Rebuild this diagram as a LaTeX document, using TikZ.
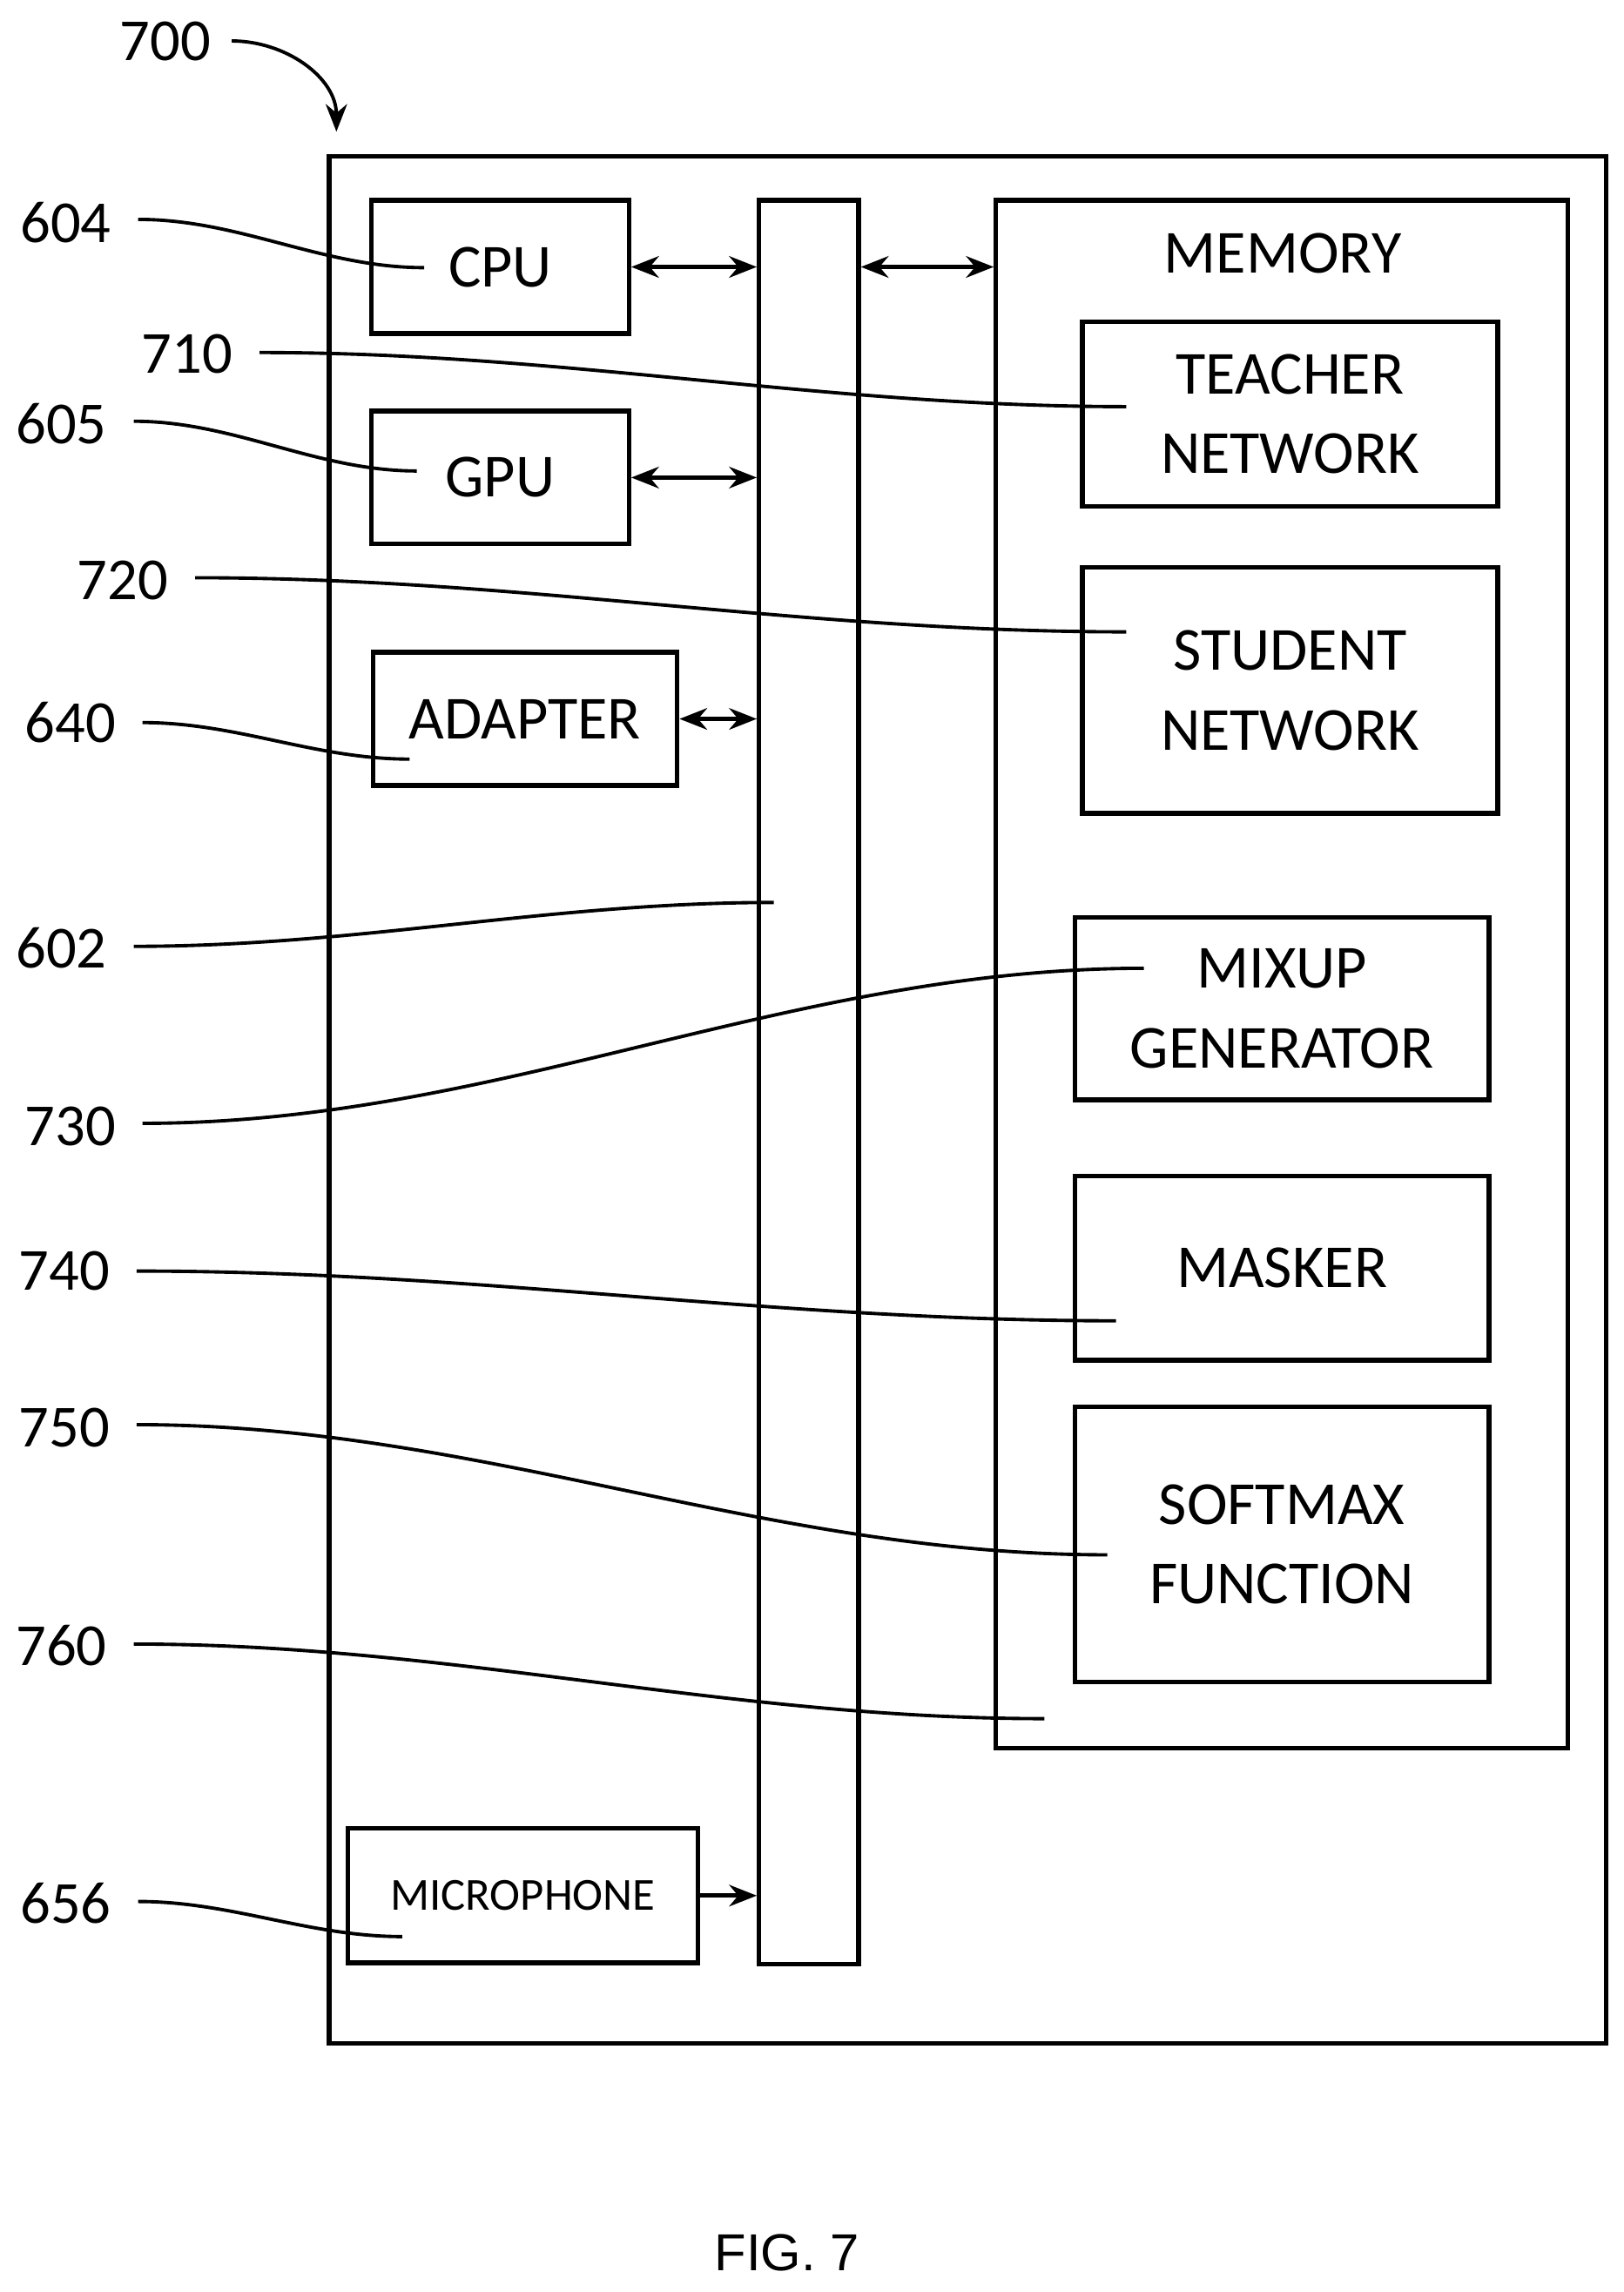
\documentclass[tikz,border=0pt]{standalone}
\usepackage{fontspec}
\setmainfont{Carlito}
\newfontfamily\figfont{Liberation Sans}
\usetikzlibrary{arrows.meta}
\def\px{0.0168cm}
\begin{document}
\begin{tikzpicture}[x=0.0168cm,y=-0.0168cm]
    % Define styles
    \tikzstyle{box} = [draw, line width=1.5pt, inner sep=0pt, align=center, font=\fontsize{20}{26}\selectfont]
    \tikzstyle{num} = [inner sep=0pt, font=\fontsize{19.5}{22}\selectfont]
    \tikzstyle{lead} = [line width=1.1pt, out=0, in=180, looseness=0.9]
    \tikzstyle{arrow} = [line width=1.5pt, {Stealth[length=9pt,width=7pt]}-{Stealth[length=9pt,width=7pt]}]
    \tikzstyle{oneway} = [line width=1.5pt, -{Stealth[length=9pt,width=7pt]}]
    \useasboundingbox (0,0) rectangle (1110,1567);

    % Boxes
    \node (dev) [box, minimum width={873*\px}, minimum height={1290*\px}] at (661.5,752) {};
    \node (cpu) [box, minimum width={176*\px}, minimum height={91*\px}] at (342,182.5) {CPU};
    \node (gpu) [box, minimum width={176*\px}, minimum height={91*\px}] at (342,326.5) {GPU};
    \node (adp) [box, minimum width={208*\px}, minimum height={91*\px}] at (359,491.5) {ADAPTER};
    \node (bus) [box, minimum width={68*\px}, minimum height={1206*\px}] at (553,740) {};
    \node (mem) [box, minimum width={391*\px}, minimum height={1058*\px}] at (876.5,666) {};
    \node (memt) [num, font=\fontsize{20}{26}\selectfont] at (877,173) {MEMORY};
    \node (tea) [box, minimum width={284*\px}, minimum height={126*\px}] at (882,283) {TEACHER\\NETWORK};
    \node (stu) [box, minimum width={284*\px}, minimum height={168*\px}] at (882,472) {STUDENT\\NETWORK};
    \node (mix) [box, minimum width={283*\px}, minimum height={125*\px}] at (876.5,689.5) {MIXUP\\GENERATOR};
    \node (msk) [box, minimum width={283*\px}, minimum height={126*\px}] at (876.5,867) {MASKER};
    \node (sfx) [box, minimum width={283*\px}, minimum height={188*\px}] at (876.5,1056) {SOFTMAX\\FUNCTION};
    \node (mic) [box, minimum width={239*\px}, minimum height={92*\px}, font=\fontsize{15}{18}\selectfont] at (357.5,1296) {MICROPHONE};

    % Bus arrows
    \draw [arrow] (cpu.east) -- (bus.west |- cpu.east);
    \draw [arrow] (gpu.east) -- (bus.west |- gpu.east);
    \draw [arrow] (adp.east) -- (bus.west |- adp.east);
    \draw [arrow] (bus.east |- cpu.east) -- (mem.west |- cpu.east);
    \draw [oneway] (mic.east) -- (bus.west |- mic.east);

    % Reference numerals
    \node (n700) [num] at (113,28) {700};
    \node (n604) [num] at (45,152) {604};
    \node (n710) [num] at (128,242) {710};
    \node (n605) [num] at (42,290) {605};
    \node (n720) [num] at (84,397) {720};
    \node (n640) [num] at (48,494) {640};
    \node (n602) [num] at (42,648) {602};
    \node (n730) [num] at (48,770) {730};
    \node (n740) [num] at (44,869) {740};
    \node (n750) [num] at (44,976) {750};
    \node (n760) [num] at (42,1125) {760};
    \node (n656) [num] at (45,1301) {656};

    % Leader ends
    \coordinate (e604) at (290,183);
    \coordinate (e710) at (770,278);
    \coordinate (e605) at (285,322);
    \coordinate (e720) at (770,432);
    \coordinate (e640) at (280,519);
    \coordinate (e602) at (529,617);
    \coordinate (e730) at (782,662);
    \coordinate (e740) at (763,903);
    \coordinate (e750) at (757,1063);
    \coordinate (e760) at (714,1175);
    \coordinate (e656) at (275,1324);

    % Leader lines
    \draw [line width=1.1pt, -{Stealth[length=9pt,width=7pt]}] (n700.east) ++(14,0) to[out=0, in=90, looseness=1] (230,90);
    \draw [lead] (n604.east) ++(18,-2) to (e604);
    \draw [lead] (n710.east) ++(18,-1) to (e710);
    \draw [lead] (n605.east) ++(18,-2) to (e605);
    \draw [lead] (n720.east) ++(18,-2) to (e720);
    \draw [lead] (n640.east) ++(18,0) to (e640);
    \draw [lead] (n602.east) ++(18,-1) to (e602);
    \draw [lead] (n730.east) ++(18,-2) to (e730);
    \draw [lead] (n740.east) ++(18,0) to (e740);
    \draw [lead] (n750.east) ++(18,-2) to (e750);
    \draw [lead] (n760.east) ++(18,-1) to (e760);
    \draw [lead] (n656.east) ++(18,-1) to (e656);

    \node (fig) [num, font=\figfont\fontsize{17}{20}\selectfont] at (538,1540) {FIG. 7};
\end{tikzpicture}
\end{document}
